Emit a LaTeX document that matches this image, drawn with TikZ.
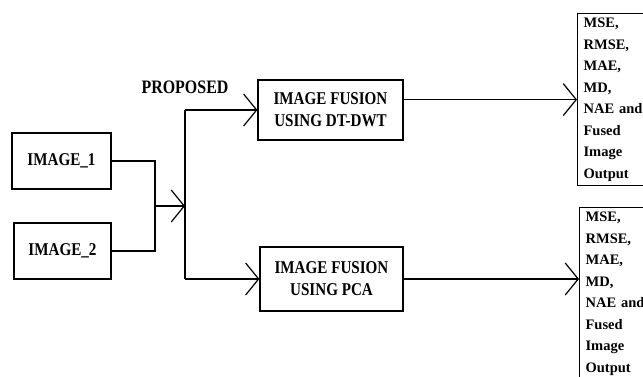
\documentclass[tikz,border=0pt]{standalone}
\usepackage{fontspec}
\setmainfont{Liberation Serif}
\newfontfamily\cond[FakeStretch=0.84]{Liberation Serif}
\usetikzlibrary{arrows.meta}
\begin{document}
\begin{tikzpicture}[x=1pt,y=-1pt,
  box/.style={draw, line width=1.2pt, inner sep=0pt, align=center, font=\cond\bfseries\fontsize{18}{22}\selectfont},
  metric/.style={draw, line width=1.2pt, anchor=north west, minimum height=172pt, text width=62pt, inner xsep=6pt, align=left, font=\bfseries\fontsize{14.5}{21.5}\selectfont},
  conn/.style={line width=1.2pt},
  arr/.style={line width=1.2pt, -{Straight Barb[length=13pt,width=32pt]}},
]
\clip (0,0) rectangle (643,376);
\node[box, minimum width=99pt, minimum height=56pt] (img1) at (61.5,161) {IMAGE\_1};
\node[box, minimum width=97pt, minimum height=56pt] (img2) at (62.5,251) {IMAGE\_2};
\node[box, minimum width=145pt, minimum height=60pt] (dwt) at (330.5,110) {IMAGE FUSION\\USING DT-DWT};
\node[box, minimum width=143pt, minimum height=64pt] (pca) at (331.5,279) {IMAGE FUSION\\USING PCA};
\node[metric] (out1) at (577,13) {MSE,\\RMSE,\\MAE,\\MD,\\NAE and\\Fused\\Image\\Output};
\node[metric] (out2) at (579,207) {MSE,\\RMSE,\\MAE,\\MD,\\NAE and\\Fused\\Image\\Output};
\node[font=\cond\bfseries\fontsize{19}{22}\selectfont, inner sep=0pt] (prop) at (185,87) {PROPOSED};
\coordinate (j) at (155,206);
\coordinate (split) at (185,206);
\draw[conn] (img1.east) -| (j);
\draw[conn] (img2.east) -| (j);
\draw[arr] (j) -- (split);
\draw[conn] (split |- dwt.west) -- (split |- pca.west);
\draw[arr] (split |- dwt.west) -- (dwt.west);
\draw[arr] (split |- pca.west) -- (pca.west);
\draw[arr] (dwt.east |- out1.west) -- (out1.west);
\draw[arr] (pca.east) -- (pca.east -| out2.west);
\end{tikzpicture}
\end{document}
